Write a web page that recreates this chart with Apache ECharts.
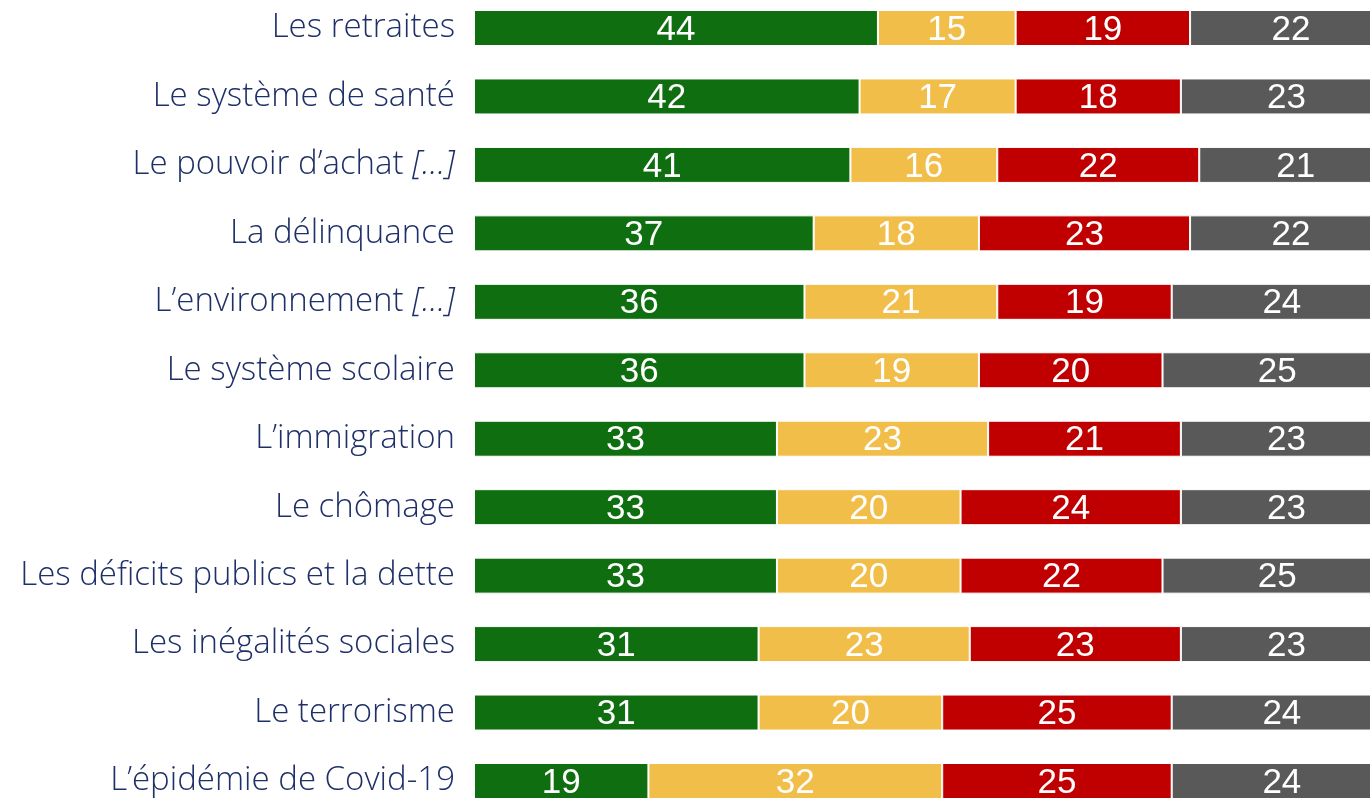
<!DOCTYPE html>
<html><head><meta charset="utf-8">
<script src="https://cdn.jsdelivr.net/npm/echarts@6/dist/echarts.min.js"></script>
<style>html,body{margin:0;padding:0;background:#fff}#c{width:1370px;height:798px}</style>
</head><body><div id="c"></div>
<script>
const categories = ["Les retraites","Le système de santé","Le pouvoir d’achat […]","La délinquance","L’environnement […]","Le système scolaire","L’immigration","Le chômage","Les déficits publics et la dette","Les inégalités sociales","Le terrorisme","L’épidémie de Covid-19"];
const greenVals = [44,42,41,37,36,36,33,33,33,31,31,19];
const yellowVals = [15,17,16,18,21,19,23,20,20,23,20,32];
const redVals = [19,18,22,23,19,20,21,24,22,23,25,25];
const greyVals = [22,23,21,22,24,25,23,23,25,23,24,24];
const colors = ["#0F6E10","#F2BE4A","#C00000","#595959"];

const chart = echarts.init(document.getElementById('c'));
function mk(name, data, color){
  return {name, type:'bar', stack:'t', data, barWidth:36, clip:false,
    itemStyle:{color, borderColor:'#fff', borderWidth:1},
    label:{show:true, position:'inside', offset:[0,2], color:'#fff', fontFamily:'Liberation Sans, Arial', fontSize:35},
    emphasis:{disabled:true}, animation:false};
}
const F = 'Open Sans';
const TC = '#1F3068';
chart.setOption({
  animation:false,
  grid:{left:474, right:0, top:28, bottom:17, containLabel:false},
  xAxis:{type:'value', min:0, max:97.6, show:false},
  yAxis:{type:'category', data:categories, inverse:true, boundaryGap:false,
    axisLine:{show:false}, axisTick:{show:false}, splitLine:{show:false},
    axisLabel:{margin:19, color:TC, fontFamily:F, fontWeight:300, fontSize:33,
      formatter:function(v){
        const i=v.indexOf('[…]');
        if(i>=0) return '{n|'+v.slice(0,i)+'}{it|[…]}';
        return '{n|'+v+'}';
      },
      rich:{n:{color:TC, fontFamily:F, fontWeight:300, fontSize:33},
            it:{color:TC, fontFamily:F, fontWeight:300, fontStyle:'italic', fontSize:33}}
    }},
  series:[mk('a',greenVals,colors[0]),mk('b',yellowVals,colors[1]),mk('c',redVals,colors[2]),mk('d',greyVals,colors[3])]
});
</script></body></html>
